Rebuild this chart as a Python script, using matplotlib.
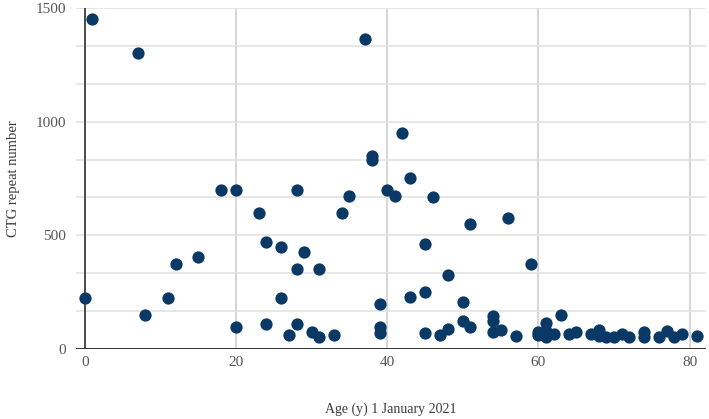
import matplotlib.pyplot as plt
from matplotlib.ticker import MultipleLocator

# age (y) on 1 January 2021 and CTG repeat number
age = [0, 1, 7, 8, 11, 12, 15, 18, 20, 20, 23, 24, 24, 26, 26, 27, 28, 28, 28,
       29, 30, 31, 31, 33, 34, 35, 37, 38, 38, 39, 39, 39, 40, 41, 42, 43, 43,
       45, 45, 45, 46, 47, 48, 48, 50, 50, 51, 51, 54, 54, 54, 55, 56, 57, 59,
       60, 60, 61, 61, 61, 62, 63, 64, 65, 67, 68, 68, 69, 70, 71, 72, 74, 74,
       76, 77, 78, 79, 81]
ctg = [225, 1450, 1300, 150, 225, 375, 405, 700, 700, 95, 600, 470, 110, 450,
       225, 63, 700, 350, 110, 425, 73, 350, 53, 60, 600, 675, 1365, 850, 830,
       200, 98, 69, 700, 675, 950, 750, 230, 460, 250, 69, 670, 63, 325, 86,
       205, 125, 550, 95, 145, 125, 73, 84, 575, 59, 373, 76, 62, 116, 54, 80,
       64, 150, 68, 73, 64, 85, 58, 53, 53, 65, 55, 73, 55, 54, 80, 55, 66, 57]

fig = plt.figure(figsize=(7.09, 4.19), dpi=100)
ax = fig.add_axes([0.107, 0.167, 0.889, 0.814])

font = ['Liberation Serif', 'DejaVu Serif']
txt = '#555555'

ax.scatter(age, ctg, s=78, color='#0b3966', zorder=3, clip_on=False,
           linewidths=0)

ax.set_xlim(-1.2, 82.2)
ax.set_ylim(0, 1500)
ax.xaxis.set_major_locator(MultipleLocator(20))
ax.yaxis.set_major_locator(MultipleLocator(500))
ax.yaxis.set_minor_locator(MultipleLocator(500 / 3))

ax.grid(axis='x', which='major', color='#d0d0d0', lw=1.2)
ax.grid(axis='y', which='both', color='#e3e3e3', lw=1.2)
ax.axvline(0, color='#333333', lw=1.2, zorder=2)
ax.axhline(0, color='#333333', lw=1.4, zorder=2)

for s in ax.spines.values():
    s.set_visible(False)
ax.tick_params(which='both', length=0)
ax.tick_params(axis='x', pad=5, labelsize=11, labelcolor=txt)
ax.tick_params(axis='y', pad=7, labelsize=11, labelcolor=txt)
for lab in ax.get_xticklabels() + ax.get_yticklabels():
    lab.set_family(font)

ax.set_xlabel('Age (y) 1 January 2021', family=font, fontsize=10,
              color='#3a3a3a', labelpad=24)
ax.set_ylabel('CTG repeat number', family=font, fontsize=10.5,
              color='#3a3a3a', labelpad=11)

fig.savefig('out.png', dpi=100)
